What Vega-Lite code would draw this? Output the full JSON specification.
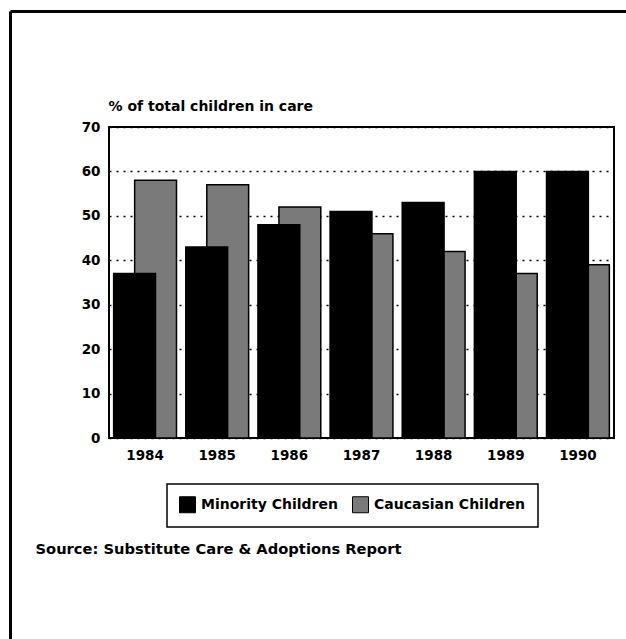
{
  "$schema": "https://vega.github.io/schema/vega-lite/v6.json",
  "width": 505,
  "height": 311,
  "autosize": {"type": "none"},
  "padding": {"left": 109, "top": 127, "right": 12, "bottom": 201},
  "background": "white",
  "config": {
    "font": "DejaVu Sans",
    "view": {"stroke": "black", "strokeWidth": 2},
    "legend": {"strokeWidth": 1.5}
  },
  "data": {
    "values": [
      {"year": "1984", "group": "Minority Children", "value": 37},
      {"year": "1985", "group": "Minority Children", "value": 43},
      {"year": "1986", "group": "Minority Children", "value": 48},
      {"year": "1987", "group": "Minority Children", "value": 51},
      {"year": "1988", "group": "Minority Children", "value": 53},
      {"year": "1989", "group": "Minority Children", "value": 60},
      {"year": "1990", "group": "Minority Children", "value": 60},
      {"year": "1984", "group": "Caucasian Children", "value": 58},
      {"year": "1985", "group": "Caucasian Children", "value": 57},
      {"year": "1986", "group": "Caucasian Children", "value": 52},
      {"year": "1987", "group": "Caucasian Children", "value": 46},
      {"year": "1988", "group": "Caucasian Children", "value": 42},
      {"year": "1989", "group": "Caucasian Children", "value": 37},
      {"year": "1990", "group": "Caucasian Children", "value": 39}
    ]
  },
  "layer": [
    {
      "encoding": {
        "x": {
          "field": "year",
          "type": "nominal",
          "scale": {"paddingInner": 0, "paddingOuter": 0},
          "axis": {
            "domain": false,
            "ticks": false,
            "labelAngle": 0,
            "labelFontSize": 13.5,
            "labelFontWeight": "bold",
            "labelColor": "black",
            "labelPadding": 10,
            "title": "Source: Substitute Care & Adoptions Report",
            "titleFontSize": 14.7,
            "titleFontWeight": "bold",
            "titleColor": "black",
            "titleAlign": "left",
            "titleBaseline": "alphabetic",
            "titleX": -74,
            "titleY": 115
          }
        },
        "y": {
          "field": "value",
          "type": "quantitative",
          "scale": {"domain": [0, 70]},
          "axis": {
            "values": [0, 10, 20, 30, 40, 50, 60, 70],
            "domain": false,
            "ticks": false,
            "grid": true,
            "gridColor": "black",
            "gridDash": [2, 5],
            "gridWidth": 1.5,
            "gridOpacity": 1,
            "labelFontSize": 13.5,
            "labelFontWeight": "bold",
            "labelColor": "black",
            "labelPadding": 9,
            "title": "% of total children in care",
            "titleAngle": 0,
            "titleFontSize": 14,
            "titleFontWeight": "bold",
            "titleColor": "black",
            "titleAlign": "left",
            "titleBaseline": "alphabetic",
            "titleX": -1,
            "titleY": -17
          }
        },
        "color": {
          "field": "group",
          "type": "nominal",
          "scale": {"domain": ["Minority Children", "Caucasian Children"], "range": ["#000000", "#7a7a7a"]},
          "legend": {
            "orient": "none",
            "legendX": 58,
            "legendY": 357,
            "direction": "horizontal",
            "title": null,
            "strokeColor": "black",
            "fillColor": "white",
            "padding": 12,
            "symbolType": "square",
            "symbolSize": 256,
            "symbolStrokeColor": "black",
            "symbolStrokeWidth": 1,
            "symbolOpacity": 1,
            "labelFontSize": 14,
            "labelFontWeight": "bold",
            "labelColor": "black",
            "labelOffset": 5,
            "columnPadding": 12
          }
        }
      },
      "layer": [
        {
          "transform": [{"filter": "datum.group === 'Caucasian Children'"}],
          "mark": {"type": "bar", "width": {"band": 0.58}, "xOffset": 10.5, "stroke": "black", "strokeWidth": 1.5}
        },
        {
          "transform": [{"filter": "datum.group === 'Minority Children'"}],
          "mark": {"type": "bar", "width": {"band": 0.58}, "xOffset": -10.5, "stroke": "black", "strokeWidth": 1.5}
        }
      ]
    },
    {
      "mark": {"type": "point", "opacity": 0},
      "encoding": {
        "x": {
          "field": "value",
          "type": "quantitative",
          "scale": {"domain": [0, 1], "range": [-99, 517], "zero": false, "nice": false},
          "axis": {"orient": "top", "offset": 116, "domainWidth": 3, "domainColor": "black", "ticks": false, "labels": false, "grid": false, "title": null}
        },
        "y": {
          "field": "value",
          "type": "quantitative",
          "scale": {"domain": [0, 1], "range": [512, -116], "zero": false, "nice": false},
          "axis": {"orient": "left", "offset": 99, "domainWidth": 3, "domainColor": "black", "ticks": false, "labels": false, "grid": false, "title": null}
        }
      }
    }
  ],
  "resolve": {"scale": {"x": "independent", "y": "independent"}}
}
